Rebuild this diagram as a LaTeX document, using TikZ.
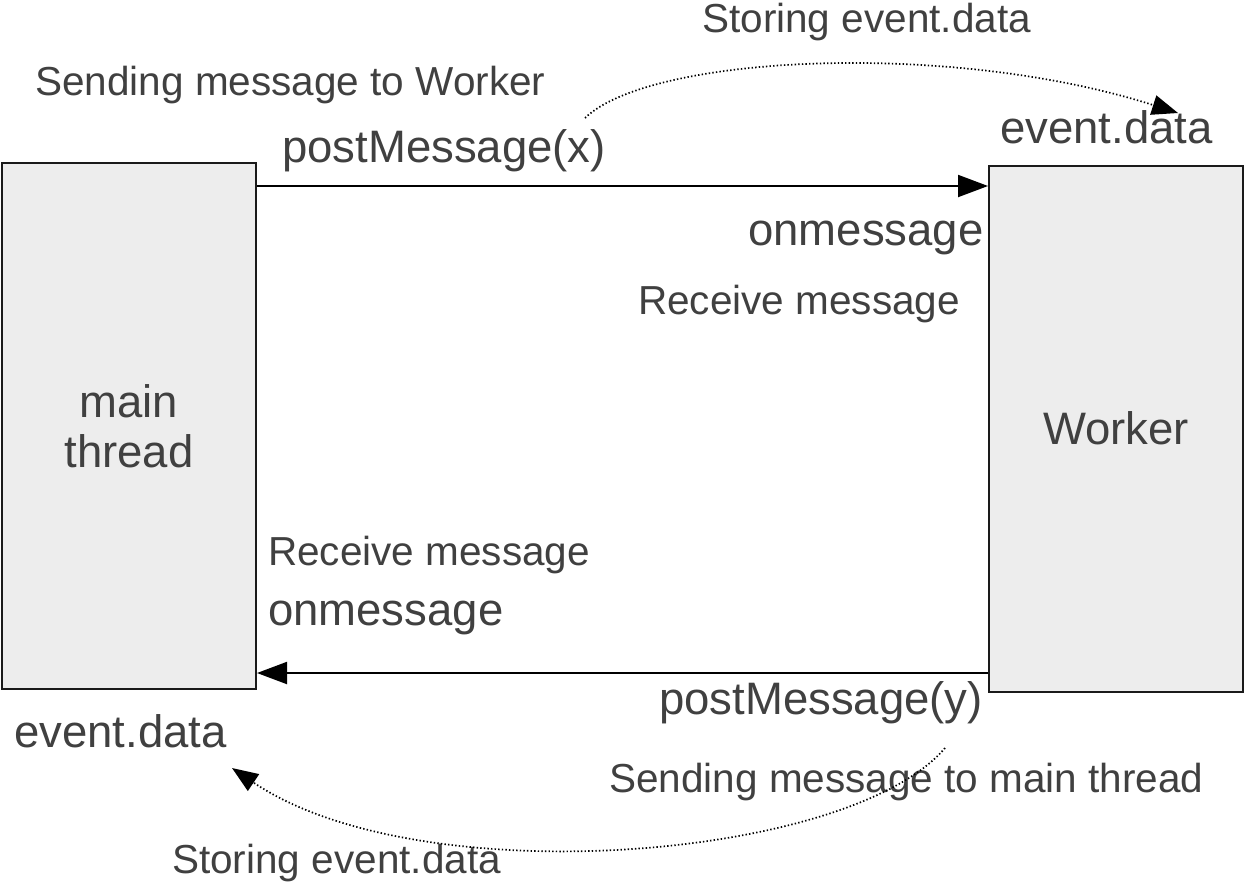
\documentclass[tikz,border=0pt]{standalone}
\usepackage{fontspec}
\setmainfont{Liberation Sans}
\usetikzlibrary{arrows.meta}
\definecolor{txtc}{HTML}{404040}
\definecolor{boxfill}{HTML}{EDEDED}
\definecolor{boxline}{HTML}{1A1A1A}
\begin{document}
\begin{tikzpicture}[x=1pt,y=-1pt,
  lbl/.style={inner sep=0pt, anchor=base west, text=txtc, font=\fontsize{40.5}{48}\selectfont},
  big/.style={lbl, font=\fontsize{45.5}{50}\selectfont},
  box/.style={draw=boxline, line width=2pt, fill=boxfill, minimum width=254pt, minimum height=526pt, inner sep=0pt, text=txtc, font=\fontsize{45.5}{50}\selectfont, align=center},
  msg/.style={draw=black, line width=2pt, -{Triangle[length=30pt,width=22pt]}},
  dots/.style={draw=black, line width=1.7pt, dash pattern=on 1.4pt off 2.2pt, -{Triangle[length=26pt,width=20pt]}}
]
\useasboundingbox (0,0) rectangle (1244,887);
\node[box] (lb) at (129,426) {main\\thread};
\node[box] (rb) at (1116,428.5) {Worker};
\coordinate (ya) at (0,186);
\coordinate (yb) at (0,673);
\draw[msg] (lb.east |- ya) -- (rb.west |- ya);
\draw[msg] (rb.west |- yb) -- (lb.east |- yb);
\node[lbl] (st1) at (702,32) {Storing event.data};
\node[lbl] (sw) at (35,95) {Sending message to Worker};
\node[big] (px) at (282,162) {postMessage(x)};
\node[big] (ed1) at (1000,143) {event.data};
\node[big] (om1) at (748,245) {onmessage};
\node[lbl] (rm1) at (638,314) {Receive message};
\node[lbl] (rm2) at (268,565) {Receive message};
\node[big] (om2) at (268,625) {onmessage};
\node[big] (py) at (659,714) {postMessage(y)};
\node[big] (ed2) at (14,747) {event.data};
\node[lbl] (smt) at (609,792) {Sending message to main thread};
\node[lbl] (st2) at (172,873) {Storing event.data};
\coordinate (c1s) at (585,118);
\coordinate (c1e) at (1178,113);
\coordinate (c2s) at (945,748);
\coordinate (c2e) at (232,768);
\draw[dots] (c1s) .. controls (650,55) and (950,40) .. (c1e);
\draw[dots] (c2s) .. controls (850,860) and (420,895) .. (c2e);
\end{tikzpicture}
\end{document}
